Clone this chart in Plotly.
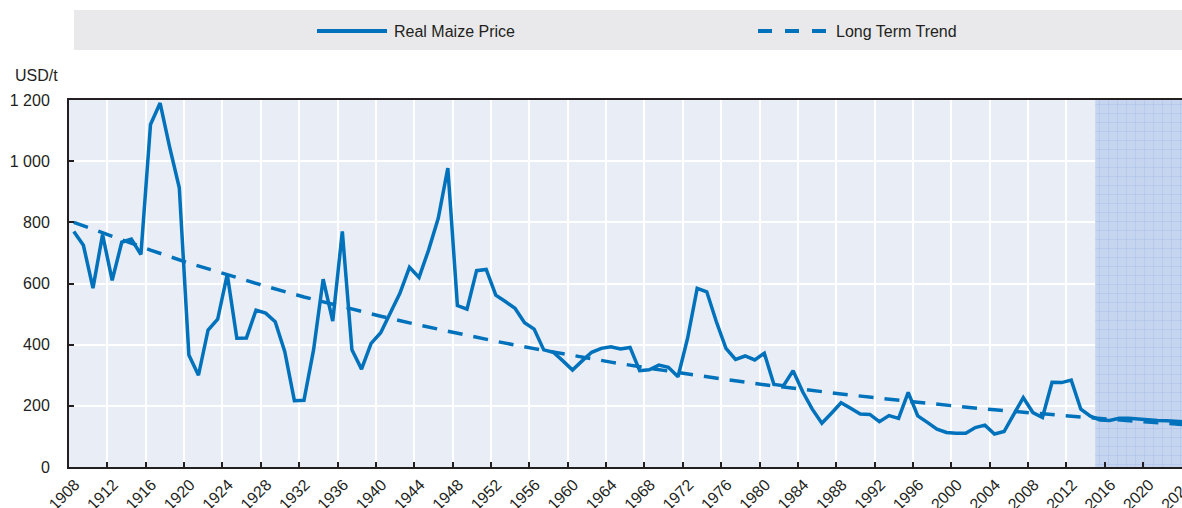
import plotly.graph_objects as go

# ---------------- data ----------------
years = list(range(1908, 2025))
real_maize_price = [
    770, 725, 585, 760, 610, 735, 745, 695, 1120, 1190,   # 1908-1917
    1045, 913, 366, 300, 448, 483, 630, 421, 422, 513,    # 1918-1927
    503, 475, 377, 217, 218, 383, 614, 477, 770, 383,     # 1928-1937
    320, 404, 439, 505, 568, 653, 620, 710, 813, 977,     # 1938-1947
    528, 516, 642, 646, 562, 541, 519, 472, 451, 383,     # 1948-1957
    375, 347, 317, 347, 375, 388, 393, 386, 391, 315,     # 1958-1967
    318, 333, 326, 295, 421, 584, 573, 475, 388, 352,     # 1968-1977
    363, 350, 372, 270, 266, 315, 246, 189, 143, 176,     # 1978-1987
    210, 192, 173, 172, 148, 168, 159, 244, 167, 146,     # 1988-1997
    124, 113, 110, 110, 129, 137, 108, 116, 170, 227,     # 1998-2007
    178, 162, 277, 276, 284, 189, 166, 154, 152, 159,     # 2008-2017
    159, 156, 154, 152, 151, 148, 147,                    # 2018-2024
]

trend_years = list(range(1908, 2025, 4))
long_term_trend = [
    800, 753, 709, 667, 628, 591, 556, 524, 493, 464,
    437, 411, 387, 364, 343, 323, 304, 286, 269, 253,
    239, 225, 211, 199, 187, 176, 166, 156, 147, 138,
]

tick_years = list(range(1908, 2025, 4))
y_ticks = [0, 200, 400, 600, 800, 1000, 1200]
projection_start = 2015
series_names = ["Real Maize Price", "Long Term Trend"]

# ---------------- style ----------------
BLUE = "#0072bc"
INK = "#231f20"
FONT = "Liberation Sans, Arial, sans-serif"
W, H = 1182, 508
ML, MR, MT, MB = 69, 0, 100, 41
PW, PH = W - ML - MR, H - MT - MB
Y_MAX = y_ticks[-1]
X_END = years[-1] + 1


def px_x(p):
    return (p - ML) / PW


def px_y(p):
    return (H - MB - p) / PH


# points sit at the centre of each year slot
x_price = [y + 0.5 for y in years]
x_trend = [y + 0.5 for y in trend_years]

fig = go.Figure()
# projection period shading (drawn as a filled area so it covers the grid)
fig.add_trace(go.Scatter(
    x=[projection_start, X_END, X_END, projection_start, projection_start],
    y=[0, 0, Y_MAX, Y_MAX, 0],
    mode="none", fill="toself", fillcolor="rgb(196,211,238)",
    fillpattern=dict(shape="+", size=9, solidity=0.12,
                     fgcolor="rgb(172,194,233)", bgcolor="rgb(198,213,239)",
                     fillmode="replace"),
    hoverinfo="skip", showlegend=False,
))
fig.add_trace(go.Scatter(
    x=x_trend, y=long_term_trend, mode="lines", name=series_names[1],
    line=dict(color=BLUE, width=3.5, dash="15px,11px"), showlegend=False,
))
fig.add_trace(go.Scatter(
    x=x_price, y=real_maize_price, mode="lines", name=series_names[0],
    line=dict(color=BLUE, width=3.5), showlegend=False,
))

shapes = [
    # legend box
    dict(type="rect", xref="paper", yref="paper", x0=px_x(74), x1=1.0,
         y0=px_y(50), y1=px_y(10), fillcolor="#e9e9eb", line=dict(width=0), layer="below"),
    # legend samples
    dict(type="line", xref="paper", yref="paper", x0=px_x(317), x1=px_x(387),
         y0=px_y(31), y1=px_y(31), line=dict(color=BLUE, width=4)),
    dict(type="line", xref="paper", yref="paper", x0=px_x(758), x1=px_x(826),
         y0=px_y(31), y1=px_y(31), line=dict(color=BLUE, width=4, dash="14px,13px")),
]

annotations = [
    dict(text=series_names[0], xref="paper", yref="paper", x=px_x(392), y=px_y(31),
         xanchor="left", yanchor="middle", showarrow=False, font=dict(size=16, color=INK)),
    dict(text=series_names[1], xref="paper", yref="paper", x=px_x(834), y=px_y(31),
         xanchor="left", yanchor="middle", showarrow=False, font=dict(size=16, color=INK)),
    dict(text="USD/t", xref="paper", yref="paper", x=px_x(13), y=px_y(75),
         xanchor="left", yanchor="middle", showarrow=False, font=dict(size=16, color=INK)),
]

fig.update_layout(
    width=W, height=H,
    margin=dict(l=ML, r=MR, t=MT, b=MB, pad=0),
    paper_bgcolor="white",
    plot_bgcolor="#e9edf6",
    font=dict(family=FONT, size=16, color=INK),
    separators=". ",
    shapes=shapes,
    annotations=annotations,
    showlegend=False,
)

fig.update_xaxes(
    range=[1908, 2024.05],
    tickvals=tick_years, ticktext=[str(t) for t in tick_years],
    tickangle=-45, tickfont=dict(size=16),
    ticklabeloverflow="allow", ticklabelshift=6,
    ticks="inside", ticklen=5, tickwidth=1.5, tickcolor=INK,
    showgrid=True, gridcolor="white", gridwidth=2,
    showline=True, linecolor=INK, linewidth=2, mirror=True,
    zeroline=False, automargin=False,
)
fig.update_yaxes(
    range=[0, Y_MAX],
    tickvals=y_ticks, tickformat=",d",
    ticks="inside", ticklen=5, tickwidth=1.5, tickcolor=INK,
    ticklabelstandoff=14,
    showgrid=True, gridcolor="white", gridwidth=2,
    showline=True, linecolor=INK, linewidth=2,
    zeroline=False, automargin=False,
)

fig.write_html(
    "out.html",
    config={"displayModeBar": False},
    post_script="document.body.style.margin='0';document.body.style.overflow='hidden';",
)
